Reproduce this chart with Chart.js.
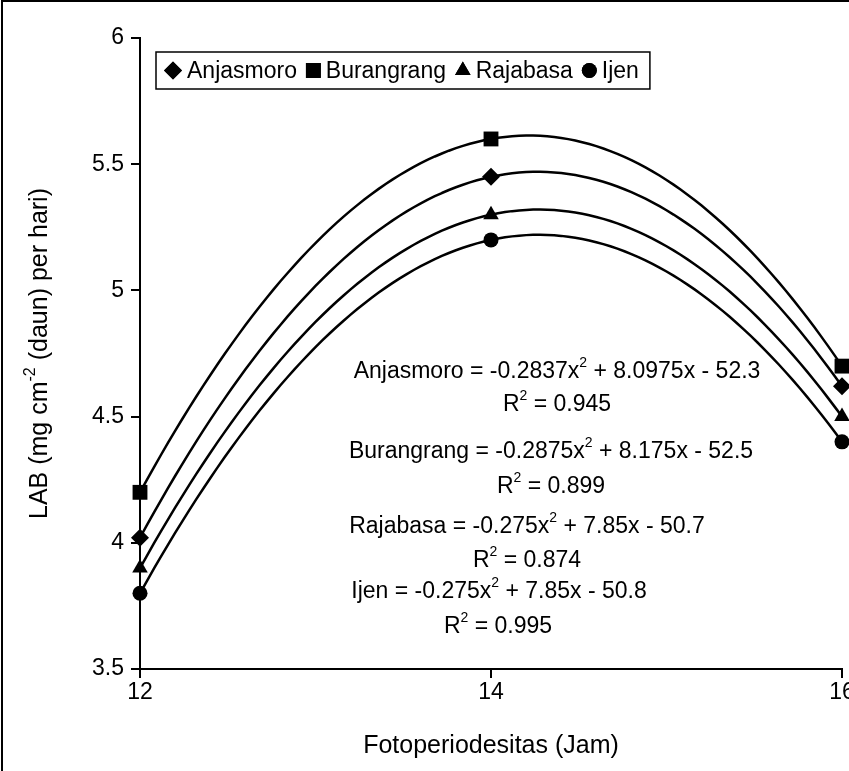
<!DOCTYPE html>
<html>
<head>
<meta charset="utf-8">
<script src="https://cdn.jsdelivr.net/npm/chart.js@4.4.1/dist/chart.umd.min.js"></script>
<style>
  html, body { margin: 0; padding: 0; background: #fff; overflow: hidden; }
  #wrap { position: relative; width: 900px; height: 771px; }
</style>
</head>
<body>
<div id="wrap"><canvas id="labChart" width="900" height="771"></canvas></div>
<script>
// data
const jam = [12, 14, 16];
const anjasmoro = [4.02, 5.45, 4.62];
const burangrang = [4.2, 5.6, 4.7];
const rajabasa = [3.9, 5.3, 4.5];
const ijen = [3.8, 5.2, 4.4];
const varietas = ['Anjasmoro', 'Burangrang', 'Rajabasa', 'Ijen'];
const seri = [anjasmoro, burangrang, rajabasa, ijen];
const simbol = ['rectRot', 'rect', 'triangle', 'circle'];
const ukuran = [9, 10.5, 9, 7.5];
const yTicks = [3.5, 4, 4.5, 5, 5.5, 6];
const xTicks = [12, 14, 16];

// teks persamaan: bagian ganjil = superskrip
const persamaan = [
  ['Anjasmoro = -0.2837x', '2', ' + 8.0975x - 52.3'],
  ['R', '2', ' = 0.945'],
  ['Burangrang = -0.2875x', '2', ' + 8.175x - 52.5'],
  ['R', '2', ' = 0.899'],
  ['Rajabasa = -0.275x', '2', ' + 7.85x - 50.7'],
  ['R', '2', ' = 0.874'],
  ['Ijen = -0.275x', '2', ' + 7.85x - 50.8'],
  ['R', '2', ' = 0.995']
];
const posPersamaan = [[557, 372], [557, 405], [551, 452], [551, 487], [527, 527], [527, 561], [499, 592], [498, 627]];

const FONT = '"Liberation Sans", Arial, sans-serif';

function teksSup(ctx, parts, x, y, size, align) {
  const sup = Math.round(size * 0.62);
  let total = 0;
  parts.forEach((p, i) => {
    ctx.font = (i % 2 ? sup : size) + 'px ' + FONT;
    total += ctx.measureText(p).width;
  });
  let cx = align === 'center' ? x - total / 2 : x;
  parts.forEach((p, i) => {
    ctx.font = (i % 2 ? sup : size) + 'px ' + FONT;
    ctx.fillText(p, cx, i % 2 ? y - size * 0.38 : y);
    cx += ctx.measureText(p).width;
  });
}

// garis tren polinomial orde 2 lewat titik-titik data
const trendline = {
  id: 'trendline',
  beforeDatasetsDraw(chart) {
    const c = chart.ctx, xs = chart.scales.x, ys = chart.scales.y;
    const [x0, x1, x2] = jam;
    c.save();
    c.strokeStyle = '#000';
    c.lineWidth = 2.5;
    c.lineJoin = 'round';
    seri.forEach(vals => {
      const [y0, y1, y2] = vals;
      const f = (x) => y0 * (x - x1) * (x - x2) / ((x0 - x1) * (x0 - x2))
        + y1 * (x - x0) * (x - x2) / ((x1 - x0) * (x1 - x2))
        + y2 * (x - x0) * (x - x1) / ((x2 - x0) * (x2 - x1));
      c.beginPath();
      for (let k = 0; k <= 100; k++) {
        const x = x0 + (x2 - x0) * k / 100;
        const px = xs.getPixelForValue(x), py = ys.getPixelForValue(f(x));
        if (k) c.lineTo(px, py); else c.moveTo(px, py);
      }
      c.stroke();
    });
    c.restore();
  }
};

const hiasan = {
  id: 'hiasan',
  beforeDraw(chart) {
    const c = chart.ctx;
    c.save();
    c.fillStyle = '#fff';
    c.fillRect(0, 0, chart.width, chart.height);
    c.strokeStyle = '#000';
    c.lineWidth = 2;
    c.strokeRect(2, 1, 1000, 1000);
    c.restore();
  },
  afterDraw(chart) {
    const c = chart.ctx;
    const area = chart.chartArea;
    c.save();
    c.fillStyle = '#000';
    c.textBaseline = 'middle';

    // legenda
    const lx = 156, ly = 52, lh = 37, ty = ly + lh / 2;
    let x = lx + 8;
    varietas.forEach((nama, i) => {
      const r = ukuran[i];
      const half = simbol[i] === 'rect' ? r * Math.SQRT1_2 : (simbol[i] === 'triangle' ? r * 0.87 : r);
      x += half;
      Chart.helpers.drawPoint(c, { pointStyle: simbol[i], radius: r, borderWidth: 0, rotation: 0 }, x, ty);
      c.fill();
      x += half + 5;
      c.font = '23px ' + FONT;
      c.textAlign = 'left';
      c.fillText(nama, x, ty + 1);
      x += c.measureText(nama).width + 9;
    });
    c.lineWidth = 1.5;
    c.strokeStyle = '#000';
    c.strokeRect(lx, ly, x - lx + 2, lh);

    // persamaan regresi
    c.textAlign = 'left';
    persamaan.forEach((p, i) => {
      teksSup(c, p, posPersamaan[i][0], posPersamaan[i][1], 23, 'center');
    });

    // judul sumbu x
    c.font = '25px ' + FONT;
    c.textAlign = 'center';
    c.fillText('Fotoperiodesitas (Jam)', (area.left + area.right) / 2, 746);

    // judul sumbu y
    c.textAlign = 'left';
    c.translate(40, (area.top + area.bottom) / 2);
    c.rotate(-Math.PI / 2);
    teksSup(c, ['LAB (mg cm', '-2', ' (daun) per hari)'], 0, 0, 25, 'center');
    c.restore();
  }
};

const ctx = document.getElementById('labChart').getContext('2d');
new Chart(ctx, {
  type: 'scatter',
  data: {
    datasets: varietas.map((nama, i) => ({
      label: nama,
      data: jam.map((j, k) => ({ x: j, y: seri[i][k] })),
      showLine: false,
      pointStyle: simbol[i],
      pointRadius: ukuran[i],
      pointHoverRadius: ukuran[i],
      pointBackgroundColor: '#000',
      pointBorderWidth: 0,
      clip: false
    }))
  },
  options: {
    responsive: false,
    animation: false,
    events: [],
    layout: { padding: { top: 38, right: 58, left: 0, bottom: 0 } },
    plugins: { legend: { display: false }, tooltip: { enabled: false } },
    scales: {
      x: {
        type: 'linear',
        min: xTicks[0],
        max: xTicks[xTicks.length - 1],
        afterBuildTicks: (s) => { s.ticks = xTicks.map(v => ({ value: v })); },
        afterFit: (s) => { s.height = 771 - 669; },
        ticks: { color: '#000', font: { family: FONT, size: 23 }, padding: 1 },
        grid: { drawOnChartArea: false, color: '#000', lineWidth: 2, tickLength: 9 },
        border: { color: '#000', width: 2 }
      },
      y: {
        min: yTicks[0],
        max: yTicks[yTicks.length - 1],
        afterBuildTicks: (s) => { s.ticks = yTicks.map(v => ({ value: v })); },
        afterFit: (s) => { s.width = 140; },
        ticks: { color: '#000', font: { family: FONT, size: 23 }, padding: 7, callback: (v) => String(v) },
        grid: { drawOnChartArea: false, color: '#000', lineWidth: 2, tickLength: 9 },
        border: { color: '#000', width: 2 }
      }
    }
  },
  plugins: [trendline, hiasan]
});
</script>
</body>
</html>
